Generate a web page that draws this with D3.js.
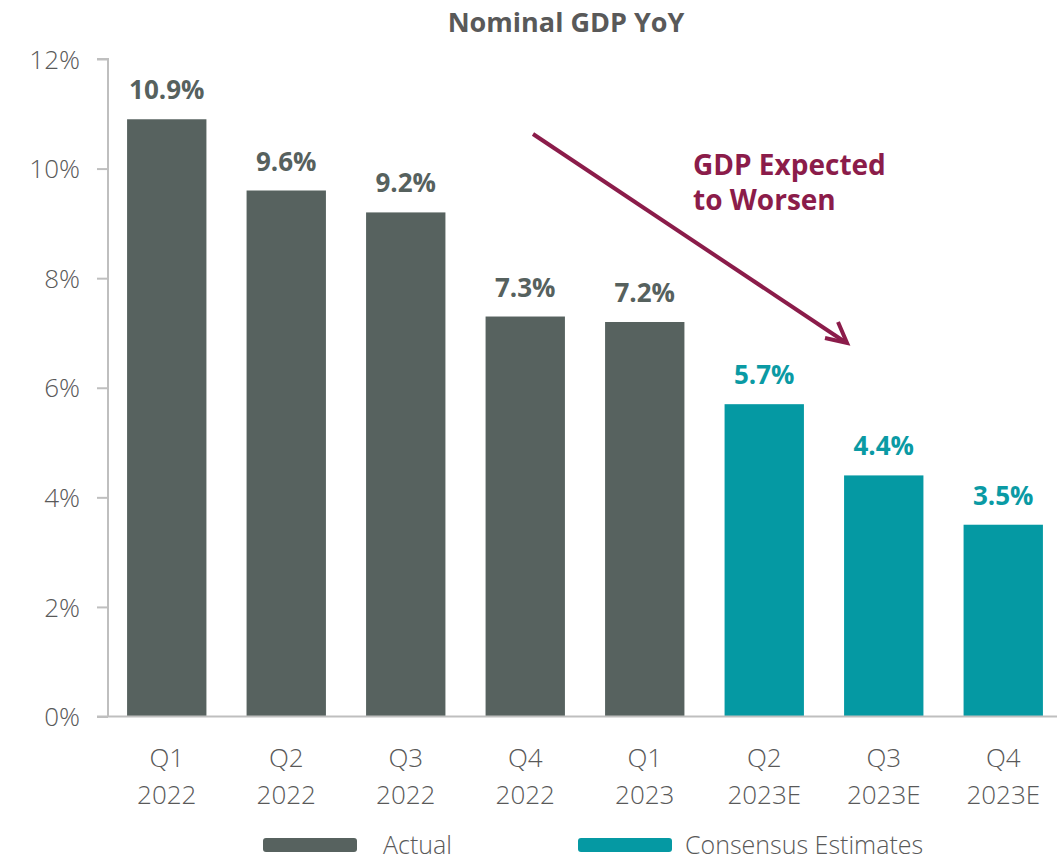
<!DOCTYPE html>
<html>
<head>
<meta charset="utf-8">
<script src="https://cdn.jsdelivr.net/npm/d3@7"></script>
<style>
  html, body { margin: 0; padding: 0; background: #fff; }
  svg { display: block; font-family: "Open Sans", "Noto Sans", sans-serif; }
</style>
</head>
<body>
<svg id="chart" width="1057" height="860"></svg>
<script>
// Nominal GDP year-over-year growth, actual vs consensus estimates
const quarters = ["Q1", "Q2", "Q3", "Q4", "Q1", "Q2", "Q3", "Q4"];
const years    = ["2022", "2022", "2022", "2022", "2023", "2023E", "2023E", "2023E"];
const gdpYoY   = [10.9, 9.6, 9.2, 7.3, 7.2, 5.7, 4.4, 3.5];
const seriesOf = ["Actual", "Actual", "Actual", "Actual", "Actual",
                  "Consensus Estimates", "Consensus Estimates", "Consensus Estimates"];
const yTicks   = [0, 2, 4, 6, 8, 10, 12];
const legendItems = ["Actual", "Consensus Estimates"];

const colors = { "Actual": "#57625f", "Consensus Estimates": "#0599a3" };
const labelColors = { "Actual": "#56615e", "Consensus Estimates": "#0a9aa4" };
const axisGrey = "#bfbfbf";
const textGrey = "#595959";
const accent = "#8b1c4a";

const svg = d3.select("#chart");
const rows = gdpYoY.map((v, i) => ({ key: i, q: quarters[i], y: years[i], v, s: seriesOf[i] }));

const x = d3.scaleBand()
  .domain(rows.map(d => d.key))
  .range([107, 1063])
  .paddingInner(0.336)
  .paddingOuter(0.168);

const y = d3.scaleLinear().domain([0, 12]).range([716.5, 59]);

// Title
svg.append("text")
  .attr("x", 566).attr("y", 32)
  .attr("text-anchor", "middle")
  .attr("font-size", 27).attr("font-weight", 700)
  .attr("fill", textGrey)
  .text("Nominal GDP YoY");

// Y axis
const yAxis = svg.append("g")
  .attr("transform", "translate(108,0)")
  .call(d3.axisLeft(y).tickValues(yTicks).tickSize(11).tickPadding(17)
    .tickFormat(d => d + "%"));
yAxis.selectAll("path, line").attr("stroke", axisGrey).attr("stroke-width", 2);
yAxis.select(".domain").attr("d", `M-11,${y(12)}H0V${y(0)}`);
yAxis.selectAll("text")
  .attr("font-size", 26).attr("fill", textGrey).attr("font-weight", 300)
  .attr("font-family", "'Open Sans', 'Noto Sans', sans-serif")
  .attr("dy", "0.35em");

// Bars
svg.append("g").selectAll("rect").data(rows).join("rect")
  .attr("x", d => x(d.key))
  .attr("width", x.bandwidth())
  .attr("y", d => y(d.v))
  .attr("height", d => y(0) - y(d.v))
  .attr("fill", d => colors[d.s]);

// X axis baseline
svg.append("line")
  .attr("x1", 97).attr("x2", 1057)
  .attr("y1", y(0)).attr("y2", y(0))
  .attr("stroke", axisGrey).attr("stroke-width", 2);

// Category labels (two lines)
const xl = svg.append("g").selectAll("text").data(rows).join("text")
  .attr("text-anchor", "middle")
  .attr("font-size", 26).attr("font-weight", 300).attr("fill", textGrey);
xl.append("tspan")
  .attr("x", d => x(d.key) + x.bandwidth() / 2).attr("y", 767)
  .text(d => d.q);
xl.append("tspan")
  .attr("x", d => x(d.key) + x.bandwidth() / 2).attr("y", 804)
  .text(d => d.y);

// Value labels
svg.append("g").selectAll("text").data(rows).join("text")
  .attr("x", d => x(d.key) + x.bandwidth() / 2)
  .attr("y", d => y(d.v) - 20)
  .attr("text-anchor", "middle")
  .attr("font-size", 26).attr("font-weight", 700)
  .attr("fill", d => labelColors[d.s])
  .text(d => d.v.toFixed(1) + "%");

// Trend arrow and annotation
svg.append("line")
  .attr("x1", 533).attr("y1", 134).attr("x2", 845).attr("y2", 342)
  .attr("stroke", accent).attr("stroke-width", 4);
svg.append("path")
  .attr("d", "M825,338 L847,343 L838,322")
  .attr("fill", "none").attr("stroke", accent).attr("stroke-width", 4)
  .attr("stroke-linejoin", "miter");

const note = svg.append("text")
  .attr("font-size", 28).attr("font-weight", 700).attr("fill", accent);
note.append("tspan").attr("x", 693).attr("y", 175).text("GDP Expected");
note.append("tspan").attr("x", 693).attr("y", 210).text("to Worsen");

// Legend
const legendX = [263, 578];
const lg = svg.append("g").selectAll("g").data(legendItems).join("g")
  .attr("transform", (d, i) => `translate(${legendX[i]},838)`);
lg.append("rect")
  .attr("width", 94).attr("height", 14).attr("rx", 3)
  .attr("fill", d => colors[d]);
lg.append("text")
  .attr("x", (d, i) => i === 0 ? 120 : 107).attr("y", 16)
  .attr("font-size", 25).attr("font-weight", 300).attr("fill", textGrey)
  .text(d => d);
</script>
</body>
</html>
